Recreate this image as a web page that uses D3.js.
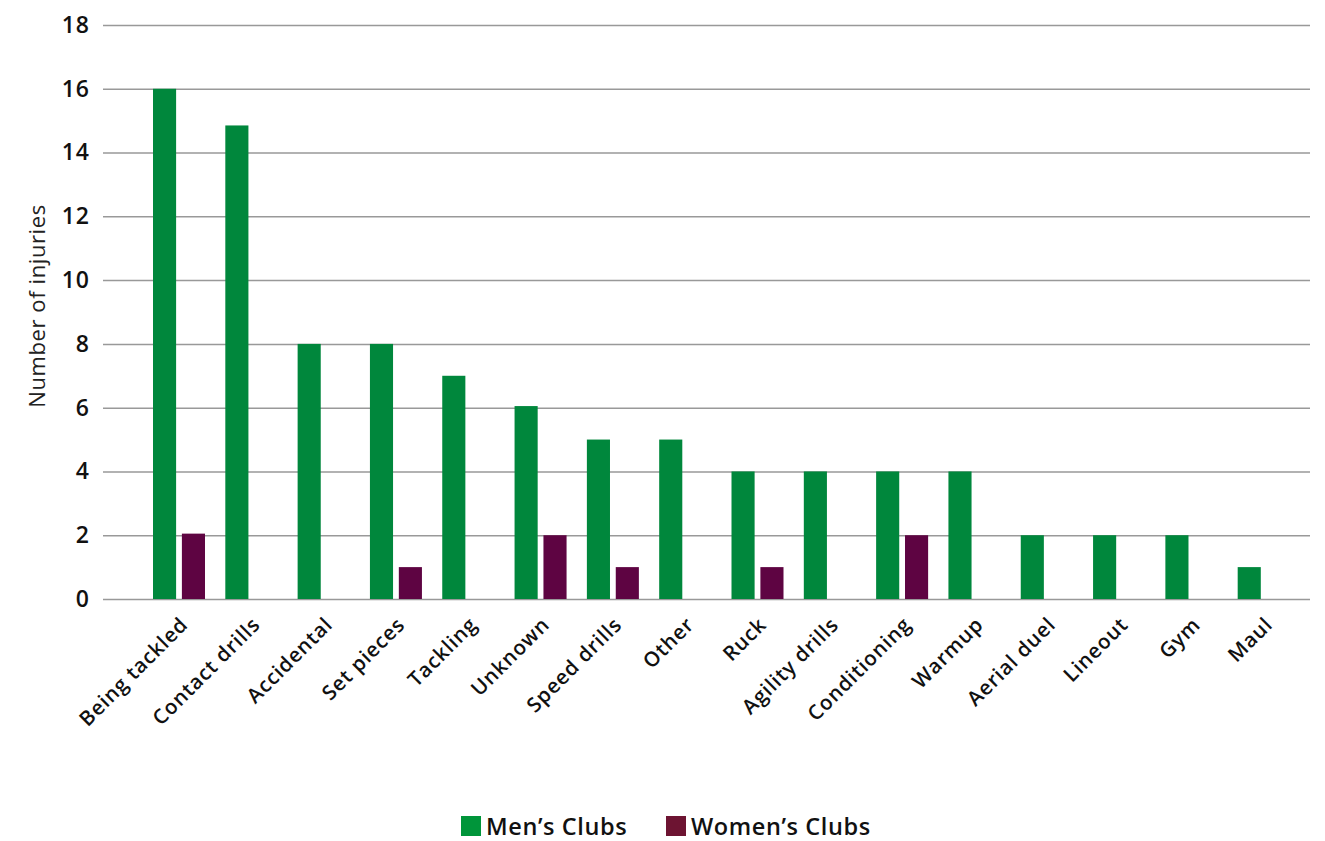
<!DOCTYPE html>
<html><head><meta charset="utf-8">
<script src="https://cdn.jsdelivr.net/npm/d3@7"></script>
<style>body{margin:0;background:#fff;} text{font-family:"Open Sans",sans-serif;}</style>
</head><body><svg id="c" width="1325" height="841"></svg>
<script>
const categories = ["Being tackled","Contact drills","Accidental","Set pieces","Tackling","Unknown","Speed drills","Other","Ruck","Agility drills","Conditioning","Warmup","Aerial duel","Lineout","Gym","Maul"];
const mens = [16,14.85,8,8,7,6.05,5,5,4,4,4,4,2,2,2,1];
const womens = [2.05,0,0,1,0,2,1,0,1,0,2,0,0,0,0,0];
const yTicks = [0,2,4,6,8,10,12,14,16,18];
const seriesNames = ["Men\u2019s Clubs","Women\u2019s Clubs"];
const colors = ["#00873c","#5e0442"];
const legendColors = ["#00953a","#6d1432"];

const svg = d3.select("#c");
const y = d3.scaleLinear().domain([0,18]).range([599,25]);
const x = d3.scaleBand().domain(categories).range([143,1300]).paddingInner(0).paddingOuter(0);
const xs = d3.scaleBand().domain([0,1]).range([10,62]).paddingInner(0.2);

const yAxis = d3.axisLeft(y).tickValues(yTicks).tickSize(-(1310-103)).tickPadding(13);
const gy = svg.append("g").attr("transform","translate(103,0)").call(yAxis);
gy.select(".domain").remove();
gy.selectAll(".tick line").attr("stroke","#999").attr("stroke-width",1.5);
gy.selectAll(".tick text").attr("font-size",23).attr("font-weight",600).attr("fill","#111")
  .attr("letter-spacing","1px");

const groups = svg.append("g").selectAll("g").data(categories).join("g")
  .attr("transform",d=>`translate(${x(d)},0)`);
groups.append("rect").attr("x",xs(0)).attr("width",xs.bandwidth())
  .attr("y",(d,i)=>y(mens[i])).attr("height",(d,i)=>y(0)-y(mens[i])).attr("fill",colors[0]);
groups.append("rect").attr("x",xs(1)).attr("width",xs.bandwidth())
  .attr("y",(d,i)=>y(womens[i])).attr("height",(d,i)=>y(0)-y(womens[i])).attr("fill",colors[1]);

const xAxis = d3.axisBottom(x).tickSize(0).tickPadding(0);
const gx = svg.append("g").attr("transform","translate(0,599)").call(xAxis);
gx.select(".domain").remove();
gx.selectAll(".tick text").attr("font-size",20.5).attr("font-weight",600).attr("fill","#111")
  .attr("letter-spacing","0.8px")
  .attr("text-anchor","end").attr("dy",0)
  .attr("transform","translate(10,27) rotate(-45)");

svg.append("text").attr("transform","translate(45,306) rotate(-90)")
  .attr("text-anchor","middle").attr("font-size",22).attr("letter-spacing","0.6px").attr("fill","#222").text("Number of injuries");

const lg = svg.append("g");
const lx = [461,666];
seriesNames.forEach((n,i)=>{
  lg.append("rect").attr("x",lx[i]).attr("y",816).attr("width",20).attr("height",20).attr("fill",legendColors[i]);
  lg.append("text").attr("x",lx[i]+25).attr("y",835).attr("font-size",23.5).attr("font-weight",600)
    .attr("letter-spacing","0.6px").attr("fill","#111").text(n);
});
</script></body></html>
